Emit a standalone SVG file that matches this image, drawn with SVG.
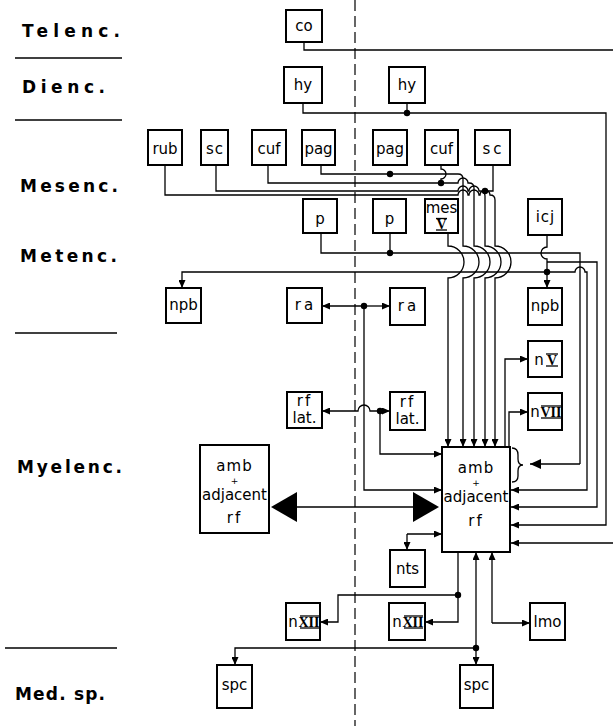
<svg xmlns="http://www.w3.org/2000/svg" width="613" height="726" viewBox="0 0 613 726">
<defs>
<marker id="a" viewBox="0 0 8 7" refX="8" refY="3.5" markerWidth="8" markerHeight="7" markerUnits="userSpaceOnUse" orient="auto"><path d="M0,0 L8,3.5 L0,7 z" fill="#000"/></marker>
<marker id="b" viewBox="0 0 11 10" refX="11" refY="5" markerWidth="11" markerHeight="10" markerUnits="userSpaceOnUse" orient="auto"><path d="M0,0 L11,5 L0,10 z" fill="#000"/></marker>
</defs>
<style>
.bx{fill:#fff;stroke:#000;stroke-width:2}
.t{font-family:"DejaVu Sans",sans-serif;font-size:15px;fill:#000;text-anchor:middle}
.r{font-family:"Liberation Serif",serif;font-weight:bold;font-size:14px;fill:#000}
.lb{font-family:"DejaVu Sans",sans-serif;font-weight:bold;font-size:17px;fill:#000}
.c{fill:none;stroke:#000;stroke-width:1.3}
.ar{marker-end:url(#a)}
.rule{stroke:#000;stroke-width:1.4}
.bar{stroke:#000;stroke-width:1.3}
</style>
<rect width="613" height="726" fill="#fff"/>
<g id="regions">
<text class="lb" x="22" y="37" textLength="98" lengthAdjust="spacing">Telenc.</text>
<line class="rule" x1="15" y1="58" x2="122" y2="58"/>
<text class="lb" x="22" y="93" textLength="83" lengthAdjust="spacing">Dienc.</text>
<line class="rule" x1="15" y1="120" x2="122" y2="120"/>
<text class="lb" x="20" y="192" textLength="98" lengthAdjust="spacing">Mesenc.</text>
<text class="lb" x="20" y="262" textLength="97" lengthAdjust="spacing">Metenc.</text>
<line class="rule" x1="15" y1="333" x2="117" y2="333"/>
<text class="lb" x="17" y="473" textLength="105" lengthAdjust="spacing">Myelenc.</text>
<line class="rule" x1="5" y1="648" x2="117" y2="648"/>
<text class="lb" x="15" y="700" textLength="90" lengthAdjust="spacing">Med. sp.</text>
</g>
<line id="midline" x1="355" y1="0" x2="355" y2="726" stroke="#000" stroke-width="1.2" stroke-dasharray="11,5"/>
<g id="connectors">
<path class="c" d="M304,42 V50 H613"/>
<path class="c ar" d="M613,543 H511"/>
<path class="c ar" d="M303,103 V113 H606 V525 H511"/>
<path class="c" d="M407,103 V113"/>
<path class="c ar" d="M321,165 V174 H458 Q463,174 463,179 V246 A16,16 0 0 1 463,278 V447"/>
<path class="c" d="M441,165 V169 A5,5 0 0 1 441,179 V183"/>
<path class="c ar" d="M268,165 V183 H458 A5,5 0 0 1 468,183 H469 Q474,183 474,188 V246 A16,16 0 0 1 474,278 V447"/>
<path class="c ar" d="M216,165 V191 H458 A5,5 0 0 1 468,191 H469 A5,5 0 0 1 479,191 H480 Q485,191 485,196 V246 A16,16 0 0 1 485,278 V447"/>
<path class="c" d="M493,165 V191 H485"/>
<path class="c ar" d="M165,165 V195 H458 A5,5 0 0 1 468,195 H469 A5,5 0 0 1 479,195 H480 A5,5 0 0 1 490,195 Q495,195 495,200 V246 A16,16 0 0 1 495,278 V447"/>
<path class="c ar" d="M448,233 V246 A16,16 0 0 1 448,278 V447"/>
<path class="c" d="M321,233 V253 H580 V464"/>
<path class="c" d="M390,233 V253"/>
<path style="fill:none;stroke:#000;stroke-width:1.3;marker-end:url(#b)" d="M580,464 H530"/>
<path class="c" d="M547,235 V247 A6,6 0 0 0 547,259 V272"/>
<path class="c ar" d="M547,272 V288"/>
<path class="c ar" d="M547,272 H182 V288"/>
<path class="c ar" d="M547,272 H575 A5,5 0 0 1 585,272 H587 V490 H511"/>
<path class="c ar" d="M547,262 H597 V507 H511"/>
<path class="c ar" d="M364,306 H322"/>
<path class="c ar" d="M364,306 H390"/>
<path class="c ar" d="M364,306 V490 H442"/>
<path class="c ar" d="M380,411 H370 A6,6 0 0 0 358,411 H322"/>
<path class="c ar" d="M380,411 H390"/>
<path class="c ar" d="M380,411 V454 H442"/>
<path class="c ar" d="M407,534 H442"/>
<path class="c ar" d="M407,534 V550"/>
<path class="c ar" d="M505,447 V359 H528"/>
<path class="c ar" d="M509,447 V412 H528"/>
<path class="c ar" d="M458,552 V622 H425"/>
<path class="c ar" d="M458,595 H338 V622 H320"/>
<path class="c ar" d="M476,648 V552"/>
<path class="c ar" d="M476,648 V665"/>
<path class="c ar" d="M476,648 H235 V665"/>
<path class="c ar" d="M492,623 V552"/>
<path class="c ar" d="M492,623 H530"/>
<path class="c" d="M512,448 Q518,448 518,455 V459 Q518,465 523,465 Q518,465 518,471 V476 Q518,482 512,482"/>
<line x1="297" y1="507" x2="413" y2="507" stroke="#000" stroke-width="1.5"/>
<polygon points="271,507 297,492 297,522" fill="#000"/>
<polygon points="439,507 413,492 413,522" fill="#000"/>
<g fill="#000">
<circle cx="407" cy="113" r="3.2"/>
<circle cx="390" cy="174" r="3.2"/>
<circle cx="441" cy="183" r="3.2"/>
<circle cx="485" cy="191" r="3.2"/>
<circle cx="390" cy="253" r="3.2"/>
<circle cx="547" cy="272" r="3.2"/>
<circle cx="364" cy="306" r="3.2"/>
<circle cx="380" cy="411" r="3.2"/>
<circle cx="458" cy="595" r="3.2"/>
<circle cx="476" cy="648" r="3.2"/>
</g>
</g>
<g id="co"><rect class="bx" x="286" y="10" width="36" height="32"/><text class="t" x="304" y="31">co</text></g>
<g id="hyL"><rect class="bx" x="284" y="67" width="38" height="36"/><text class="t" x="303" y="90">hy</text></g>
<g id="hyR"><rect class="bx" x="389" y="67" width="36" height="36"/><text class="t" x="407" y="90">hy</text></g>
<g id="rub"><rect class="bx" x="148" y="130" width="34" height="35"/><text class="t" x="165" y="154">rub</text></g>
<g id="scL"><rect class="bx" x="201" y="130" width="27" height="35"/><text class="t" x="215" y="154" letter-spacing="1">sc</text></g>
<g id="cufL"><rect class="bx" x="252" y="130" width="34" height="35"/><text class="t" x="269" y="154">cuf</text></g>
<g id="pagL"><rect class="bx" x="302" y="130" width="33" height="35"/><text class="t" x="318.5" y="154">pag</text></g>
<g id="pagR"><rect class="bx" x="373" y="130" width="34" height="35"/><text class="t" x="390" y="154">pag</text></g>
<g id="cufR"><rect class="bx" x="425" y="130" width="33" height="35"/><text class="t" x="441.5" y="154">cuf</text></g>
<g id="scR"><rect class="bx" x="475" y="130" width="35" height="35"/><text class="t" x="493.5" y="154" letter-spacing="3">sc</text></g>
<g id="pL"><rect class="bx" x="303" y="199" width="34" height="34"/><text class="t" x="320" y="224">p</text></g>
<g id="pR"><rect class="bx" x="373" y="199" width="33" height="34"/><text class="t" x="389.5" y="224">p</text></g>
<g id="mesV"><rect class="bx" x="425" y="199" width="33" height="34"/><text class="t" x="441.5" y="213">mes</text><text class="r" x="441.5" y="229" text-anchor="middle">V</text><line class="bar" x1="436" y1="218.5" x2="447" y2="218.5"/><line class="bar" x1="436" y1="230" x2="447" y2="230"/></g>
<g id="icj"><rect class="bx" x="528" y="199" width="34" height="36"/><text class="t" x="545.5" y="222" letter-spacing="1">icj</text></g>
<g id="npbL"><rect class="bx" x="166" y="288" width="35" height="35"/><text class="t" x="183.5" y="310">npb</text></g>
<g id="raL"><rect class="bx" x="287" y="288" width="35" height="35"/><text class="t" x="305.5" y="310" letter-spacing="3">ra</text></g>
<g id="raR"><rect class="bx" x="390" y="288" width="35" height="37"/><text class="t" x="408.5" y="311" letter-spacing="3">ra</text></g>
<g id="npbR"><rect class="bx" x="528" y="288" width="34" height="37"/><text class="t" x="545" y="311">npb</text></g>
<g id="nV"><rect class="bx" x="528" y="341" width="34" height="36"/><text class="t" x="539" y="365">n</text><text class="r" x="552" y="365" text-anchor="middle">V</text><line class="bar" x1="546" y1="354" x2="558" y2="354"/><line class="bar" x1="546" y1="366" x2="558" y2="366"/></g>
<g id="nVII"><rect class="bx" x="528" y="393" width="34" height="37"/><text class="t" x="535" y="417">n</text><text class="r" x="551" y="417" text-anchor="middle" font-size="13">VII</text><line class="bar" x1="541" y1="406" x2="561" y2="406"/><line class="bar" x1="541" y1="418" x2="561" y2="418"/></g>
<g id="rflatL"><rect class="bx" x="287" y="392" width="35" height="36"/><text class="t" x="304.5" y="406" font-size="14"><tspan letter-spacing="2">rf</tspan><tspan x="304.5" dy="17">lat.</tspan></text></g>
<g id="rflatR"><rect class="bx" x="390" y="392" width="35" height="38"/><text class="t" x="407.5" y="407" font-size="14"><tspan letter-spacing="2">rf</tspan><tspan x="407.5" dy="17">lat.</tspan></text></g>
<g id="ambL"><rect class="bx" x="200" y="445" width="69" height="88"/><text class="t" x="234.5" y="471"><tspan letter-spacing="1">amb</tspan><tspan x="234.5" dy="13" font-size="9">+</tspan><tspan x="234.5" dy="16">adjacent</tspan><tspan x="234.5" dy="23" letter-spacing="2">rf</tspan></text></g>
<g id="ambR"><rect class="bx" x="442" y="447" width="68" height="105"/><text class="t" x="476" y="473"><tspan letter-spacing="1">amb</tspan><tspan x="476" dy="13" font-size="9">+</tspan><tspan x="476" dy="16">adjacent</tspan><tspan x="476" dy="24" letter-spacing="2">rf</tspan></text></g>
<g id="nts"><rect class="bx" x="390" y="550" width="35" height="37"/><text class="t" x="407.5" y="574">nts</text></g>
<g id="nXIIL"><rect class="bx" x="286" y="603" width="34" height="37"/><text class="t" x="293" y="627">n</text><text class="r" x="309" y="627" text-anchor="middle" font-size="13">XII</text><line class="bar" x1="300" y1="616" x2="319" y2="616"/><line class="bar" x1="300" y1="628" x2="319" y2="628"/></g>
<g id="nXIIR"><rect class="bx" x="389" y="603" width="36" height="37"/><text class="t" x="397" y="627">n</text><text class="r" x="413" y="627" text-anchor="middle" font-size="13">XII</text><line class="bar" x1="404" y1="616" x2="423" y2="616"/><line class="bar" x1="404" y1="628" x2="423" y2="628"/></g>
<g id="lmo"><rect class="bx" x="530" y="603" width="35" height="37"/><text class="t" x="547.5" y="627">lmo</text></g>
<g id="spcL"><rect class="bx" x="217" y="665" width="35" height="43"/><text class="t" x="234.5" y="690">spc</text></g>
<g id="spcR"><rect class="bx" x="460" y="665" width="33" height="43"/><text class="t" x="476.5" y="690">spc</text></g>
</svg>
